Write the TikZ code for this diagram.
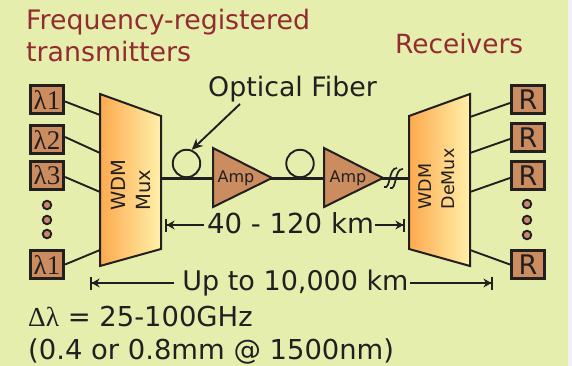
\documentclass[tikz,border=0pt]{standalone}
\usepackage{fontspec}
\setmainfont{DejaVu Sans}
\newfontfamily\symfont{Liberation Serif}
\usetikzlibrary{positioning, calc, arrows.meta, shadings}
\definecolor{pagegreen}{RGB}{230, 238, 174}
\definecolor{sidegrey}{RGB}{240, 240, 245}
\definecolor{titlered}{RGB}{146, 44, 48}
\definecolor{inkgrey}{RGB}{35, 31, 32}
\definecolor{boxbrown}{RGB}{203, 140, 96}
\definecolor{muxleft}{RGB}{253, 170, 78}
\definecolor{muxright}{RGB}{255, 240, 170}
\definecolor{dotfill}{RGB}{200, 136, 110}
\begin{document}
\begin{tikzpicture}[x=1pt, y=-1pt,
  txbox/.style={draw=inkgrey, fill=boxbrown, line width=2.6pt, minimum width=33.5pt, minimum height=28.5pt, inner sep=0pt, font=\symfont\fontsize{27}{27}\selectfont, text=inkgrey},
  rxbox/.style={txbox, font=\fontsize{27}{27}\selectfont},
  wire/.style={draw=inkgrey, line width=1.9pt},
  muxbody/.style={draw=inkgrey, line width=2pt, left color=muxleft, right color=muxright},
  ampbody/.style={draw=inkgrey, line width=2pt, fill=boxbrown},
  loopring/.style={draw=inkgrey, line width=1.9pt, circle, minimum size=27.5pt, inner sep=0pt},
  dotnode/.style={draw=inkgrey, fill=dotfill, line width=1.9pt, circle, minimum size=8.5pt, inner sep=0pt},
  heading/.style={font=\fontsize{26.8}{32}\selectfont, text=titlered, align=left, inner sep=0pt},
  caption/.style={font=\fontsize{27}{32}\selectfont, text=inkgrey, inner sep=0pt, align=left},
  sidelabel/.style={text=inkgrey, rotate=90, align=left, inner sep=0pt},
  ampname/.style={font=\fontsize{16}{16}\selectfont, text=inkgrey, inner sep=0pt},
  measure/.style={draw=inkgrey, line width=1.6pt, -{Stealth[length=8pt,width=9pt]Bar[width=13pt,line width=1.6pt]}}
]
  \useasboundingbox (0,0) rectangle (572,366);
  \fill[pagegreen] (0,0) rectangle (568,366);
  \fill[sidegrey] (568,0) rectangle (572,366);
  % headings
  \node[heading, anchor=base west] (txheada) at (26,30) {Frequency-registered};
  \node[heading, anchor=base west] (txheadb) at (26,62) {transmitters};
  \node[heading, anchor=base west, font=\fontsize{26.4}{32}\selectfont] (rxhead) at (395,54) {Receivers};
  \node[caption, anchor=base west, font=\fontsize{26.8}{32}\selectfont] (fibertext) at (208,97) {Optical Fiber};
  % transmitters
  \node[txbox] (tx1) at (47,99.5) {λ1};
  \node[txbox] (tx2) at (47,139.5) {λ2};
  \node[txbox] (tx3) at (47,175.5) {λ3};
  \node[txbox] (tx4) at (47,264.5) {λ1};
  \node[dotnode] (dota1) at (47,205) {};
  \node[dotnode] (dota2) at (47,220) {};
  \node[dotnode] (dota3) at (47,234) {};
  % receivers
  \node[rxbox] (rx1) at (528,99.5) {R};
  \node[rxbox] (rx2) at (528,137.5) {R};
  \node[rxbox] (rx3) at (528,175.5) {R};
  \node[rxbox] (rx4) at (528,264.5) {R};
  \node[dotnode] (dotb1) at (527,204) {};
  \node[dotnode] (dotb2) at (527,220) {};
  \node[dotnode] (dotb3) at (527,235) {};
  % mux and demux
  \draw[muxbody] (100,94) -- (161,116) -- (161,249) -- (100,266) -- cycle;
  \node[sidelabel, font=\fontsize{19.5}{25}\selectfont] (muxname) at (131,185) {WDM\\Mux};
  \draw[muxbody] (409,116) -- (470,94) -- (470,266) -- (409,249) -- cycle;
  \node[sidelabel, font=\fontsize{17.5}{23}\selectfont] (demuxname) at (436.5,179) {WDM\\DeMux};
  % wires on the left
  \coordinate (in1) at (100,115);
  \coordinate (in2) at (100,153);
  \coordinate (in3) at (100,192);
  \coordinate (in4) at (100,250);
  \draw[wire] (tx1.east) ++(0,2) -- (in1);
  \draw[wire] (tx2.east) ++(0,-2.5) -- (in2);
  \draw[wire] (tx3.east) ++(0,1.5) -- (in3);
  \draw[wire] (tx4.east) -- (in4);
  % wires on the right
  \coordinate (out1) at (470,117);
  \coordinate (out2) at (470,153);
  \coordinate (out3) at (470,192);
  \coordinate (out4) at (470,250);
  \draw[wire] (out1) -- ($(rx1.west)+(0,3.5)$);
  \draw[wire] (out2) -- ($(rx2.west)+(0,1.5)$);
  \draw[wire] (out3) -- ($(rx3.west)+(0,2.5)$);
  \draw[wire] (out4) -- (rx4.west);
  % fiber line
  \draw[wire, line width=2.3pt] (161,178.5) -- (409,178.5);
  \node[loopring] (loopone) at (186.5,163.5) {};
  \node[loopring] (looptwo) at (300,163.5) {};
  \draw[ampbody] (213,148) -- (272,178) -- (213,207) -- cycle;
  \draw[ampbody] (324,148) -- (383,178) -- (324,207) -- cycle;
  \node[ampname] (ampa) at (236,178) {Amp};
  \node[ampname] (ampb) at (348,178) {Amp};
  \draw[wire, line width=1.7pt] (384,187) .. controls (391,190) and (388,168) .. (397,168);
  \draw[wire, line width=1.7pt] (390,188) .. controls (397,191) and (394,168) .. (403,169);
  % pointer
  \coordinate (pointstart) at (240,104);
  \draw[draw=inkgrey, line width=1.9pt, -{Stealth[length=11pt,width=10pt]}] (pointstart) -- (loopone.69);
  % spans
  \node[caption, anchor=base, font=\fontsize{27.6}{32}\selectfont] (shortspan) at (290.5,233) {40 - 120 km};
  \coordinate (shorta) at (165,225);
  \coordinate (shortb) at (405,225);
  \draw[measure] (shortspan.west |- shorta) ++(-3,0) -- (shorta);
  \draw[measure] (shortspan.east |- shortb) ++(1,0) -- (shortb);
  \node[caption, anchor=base] (longspan) at (295.5,290) {Up to 10,000 km};
  \coordinate (longa) at (90,283);
  \coordinate (longb) at (493,283);
  \draw[measure] (longspan.west |- longa) ++(-8,0) -- (longa);
  \draw[measure] (longspan.east |- longb) ++(1,0) -- (longb);
  % notes
  \node[caption, anchor=base west, font=\fontsize{27.4}{32}\selectfont] (noteone) at (28,326) {{\symfont Δλ} = 25-100GHz};
  \node[caption, anchor=base west, font=\fontsize{27.4}{32}\selectfont] (notetwo) at (28,359) {(0.4 or 0.8mm @ 1500nm)};
\end{tikzpicture}
\end{document}
